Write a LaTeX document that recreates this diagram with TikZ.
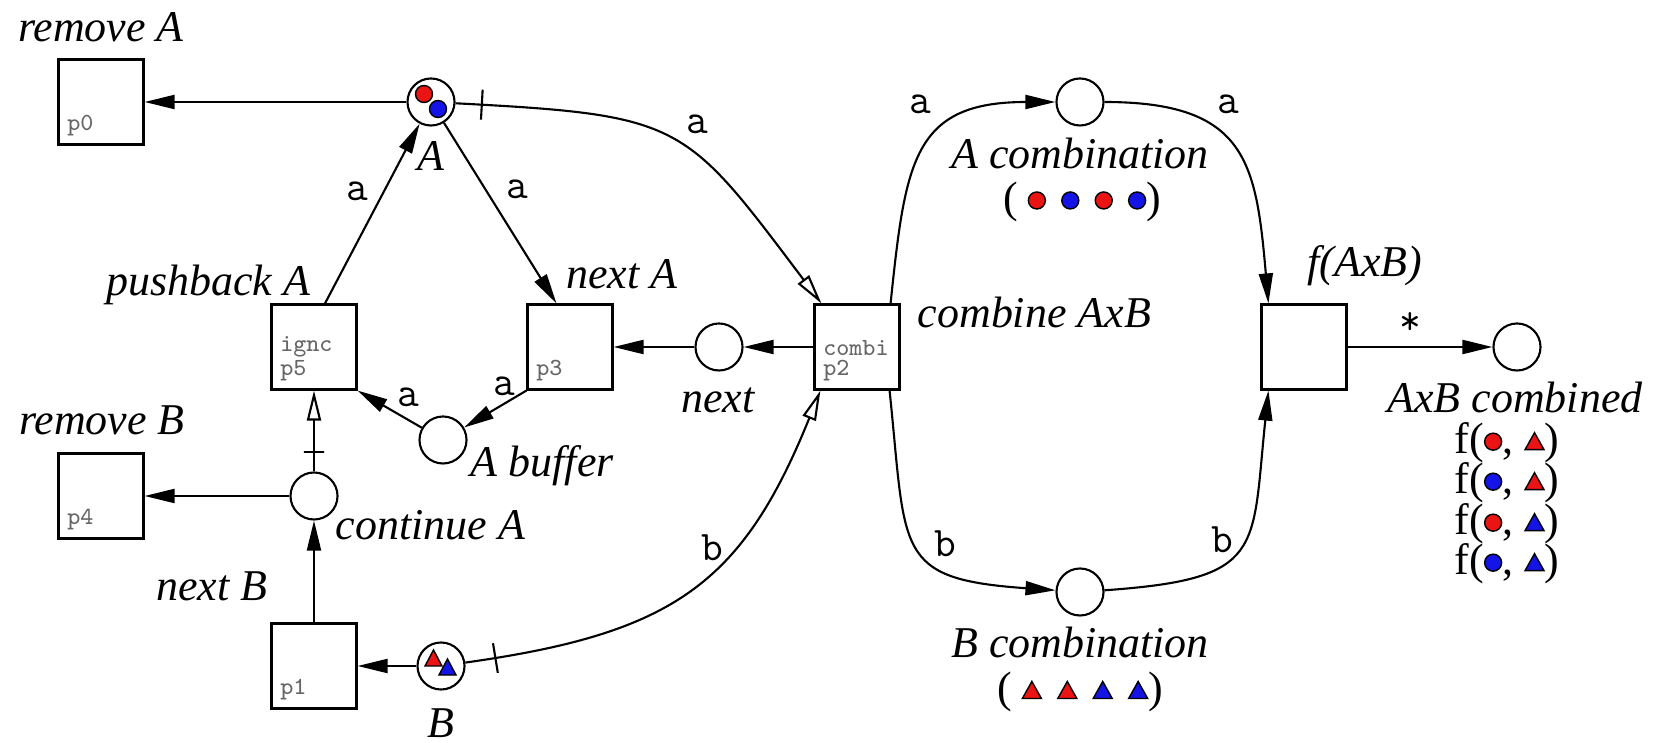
\documentclass[tikz,border=0pt]{standalone}
\usepackage{fontspec}
\setmainfont{Liberation Serif}
\usetikzlibrary{positioning}
\usetikzlibrary{arrows.meta}
\usetikzlibrary{calc}

\definecolor{tokred}{RGB}{235,20,20}
\definecolor{tokblue}{RGB}{20,20,230}

% coloured tokens for use inside text
\newcommand{\rdot}{\tikz[baseline=-0.6ex,x=1cm,y=1cm]\draw[fill=tokred,line width=0.4pt] (0,0) circle (0.085cm);}
\newcommand{\bdot}{\tikz[baseline=-0.6ex,x=1cm,y=1cm]\draw[fill=tokblue,line width=0.4pt] (0,0) circle (0.085cm);}
\newcommand{\rtri}{\tikz[baseline=-0.6ex,x=1cm,y=1cm]\draw[fill=tokred,line width=0.4pt] (-0.095,-0.08) -- (0.095,-0.08) -- (0,0.09) -- cycle;}
\newcommand{\btri}{\tikz[baseline=-0.6ex,x=1cm,y=1cm]\draw[fill=tokblue,line width=0.4pt] (-0.095,-0.08) -- (0.095,-0.08) -- (0,0.09) -- cycle;}
\newcommand{\tgap}{\hspace{0.15cm}}

\begin{document}
\begin{tikzpicture}[
    x=0.01cm, y=-0.01cm,
    line width=0.6pt,
    trans/.style={draw, minimum size=0.85cm, inner sep=0pt},
    place/.style={draw, circle, minimum size=0.47cm, inner sep=0pt},
    title/.style={font=\fontsize{12.5}{14}\selectfont\itshape},
    inscr/.style={font=\fontsize{12}{14}\selectfont\ttfamily},
    result/.style={font=\fontsize{12.5}{14}\selectfont},
    pid/.style={font=\fontsize{7}{5.5}\selectfont\ttfamily, text=black!60, align=left, inner sep=2.5pt},
    arc/.style={-{Triangle[length=0.3cm, width=0.14cm]}},
    test/.style={-{Triangle[open, length=0.3cm, width=0.14cm]}},
    tickmark/.style={draw, inner sep=0pt, minimum width=0pt, minimum height=0.3cm}
]
    \useasboundingbox (0,0) rectangle (1654,743);

    % Transitions
    \node[trans, label={[pid, anchor=south west]south west:p0}] (p0) at (101,102) {};
    \node[trans, label={[pid, anchor=south west]south west:{ignc\\p5}}] (p5) at (314,347) {};
    \node[trans, label={[pid, anchor=south west]south west:p3}] (p3) at (570,347) {};
    \node[trans, label={[pid, anchor=south west]south west:{combi\\p2}}] (combi) at (857,347) {};
    \node[trans] (fab) at (1304,347) {};
    \node[trans, label={[pid, anchor=south west]south west:p4}] (p4) at (101,496) {};
    \node[trans, label={[pid, anchor=south west]south west:p1}] (p1) at (314,666) {};

    % Places
    \node[place] (A) at (431,102) {};
    \node[place] (next) at (719,347) {};
    \node[place] (buf) at (443,440) {};
    \node[place] (cont) at (314,496) {};
    \node[place] (B) at (441,666) {};
    \node[place] (Acomb) at (1080,102) {};
    \node[place] (Bcomb) at (1080,592) {};
    \node[place] (AxB) at (1517,347) {};

    % Tokens
    \draw[fill=tokred, line width=0.4pt] ([shift={(-7,-8)}]A.center) circle (0.085cm);
    \draw[fill=tokblue, line width=0.4pt] ([shift={(7,7)}]A.center) circle (0.085cm);
    \draw[fill=tokred, line width=0.4pt] ([shift={(-16,0)}]B.center) -- ++(17,0) -- ++(-8.5,-16) -- cycle;
    \draw[fill=tokblue, line width=0.4pt] ([shift={(-2,9)}]B.center) -- ++(17,0) -- ++(-8.5,-16) -- cycle;

    % Names
    \node[title] (tp0) at (101,27) {remove A};
    \node[title] (tA) at (431,156) {A};
    \node[title, anchor=east] (tp5) at (323,285) {pushback A};
    \node[title] (tp3) at (622,274) {next A};
    \node[title] (tnext) at (718,400) {next};
    \node[title, anchor=west] (tbuf) at (458,466) {A buffer};
    \node[title, anchor=west] (tcombi) at (905,312) {combine AxB};
    \node[title] (tp4) at (102,420) {remove B};
    \node[title, anchor=west] (tcont) at (323,525) {continue A};
    \node[title] (tp1) at (212,586) {next B};
    \node[title, inner sep=1pt] (tB) at (441,723) {B};
    \node[title] (tfab) at (1365,266) {f(AxB)};
    \node[title] (tAxB) at (1515,397) {AxB combined};
    \node[title] (tAcomb) at (1080,153) {A combination};
    \node[result] (kAcomb) at (1082,202) {(\hspace{0.1cm}\rdot\tgap\bdot\tgap\rdot\tgap\bdot)};
    \node[title] (tBcomb) at (1080,642) {B combination};
    \node[result] (kBcomb) at (1080,692) {(\hspace{0.1cm}\rtri\tgap\rtri\tgap\btri\tgap\btri)};

    % Combined results
    \node[result] (res1) at (1507,443) {f(\rdot, \rtri)};
    \node[result] (res2) at (1507,483) {f(\bdot, \rtri)};
    \node[result] (res3) at (1507,524) {f(\rdot, \btri)};
    \node[result] (res4) at (1507,564) {f(\bdot, \btri)};

    % Arc inscriptions
    \node[inscr] (ia1) at (357,191) {a};
    \node[inscr] (ia2) at (517,189) {a};
    \node[inscr] (ia3) at (697,124) {a};
    \node[inscr] (ia4) at (504,386) {a};
    \node[inscr] (ia5) at (408,397) {a};
    \node[inscr] (ia6) at (920,104) {a};
    \node[inscr] (ia7) at (1228,104) {a};
    \node[inscr] (ib1) at (712,548) {b};
    \node[inscr] (ib2) at (945,544) {b};
    \node[inscr] (ib3) at (1222,540) {b};
    \node[inscr] (istar) at (1410,324) {*};

    % Arcs around A
    \draw[arc] (A) -- (p0.east);
    \draw[arc] ([xshift=0.11cm]p5.north) -- (A);
    \draw[arc] (A) -- ([xshift=0.3cm]p3.north west);
    \draw[test] (A) to[out=-3, in=127, looseness=1.4]
        node[tickmark, sloped, pos=0.04] (tk1) {} ([xshift=0.08cm]combi.north west);
    \draw[arc] (p3.south west) -- (buf);
    \draw[arc] (buf) -- (p5.south east);

    % Next chain
    \draw[arc] (combi) -- (next);
    \draw[arc] (next) -- (p3);

    % Arcs around B
    \draw[arc] (B) -- (p1.east);
    \draw[arc] (p1) -- (cont);
    \draw[arc] (cont) -- (p4.east);
    \draw[test] (cont) -- node[tickmark, minimum height=0.2cm, sloped, pos=0.24] (tk2) {} (p5);
    \draw[test] (B) to[out=8, in=-112, looseness=1.2]
        node[tickmark, sloped, pos=0.05] (tk3) {} ([xshift=0.07cm]combi.south west);

    % Combination
    \draw[arc] ([xshift=-0.1cm]combi.north east) to[out=84, in=180, looseness=1.4] (Acomb);
    \draw[arc] (Acomb) to[out=0, in=95, looseness=1.4] ([xshift=0.08cm]fab.north west);
    \draw[arc] ([xshift=-0.11cm]combi.south east) to[out=-84, in=176, looseness=1.6] (Bcomb);
    \draw[arc] (Bcomb) to[out=4, in=-96, looseness=1.6] ([xshift=0.08cm]fab.south west);
    \draw[arc] (fab) -- (AxB);
\end{tikzpicture}
\end{document}
